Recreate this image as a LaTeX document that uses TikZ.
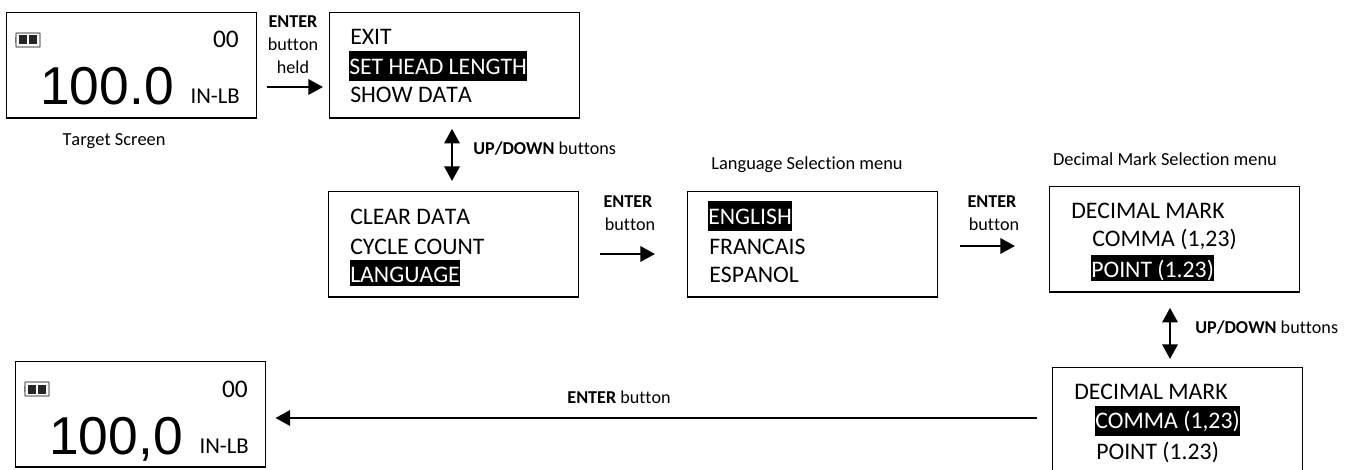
\documentclass[tikz,border=0pt]{standalone}
\usepackage{fontspec}
\setmainfont{Carlito}[Ligatures=NoCommon, Kerning=Off]
\newfontfamily\digitfont{Liberation Sans}
\usepackage{tikz}
\usetikzlibrary{positioning, calc, arrows.meta}
\tikzset{screen/.style={draw, line width=1.1pt, minimum width=187.5pt, minimum height=79pt, anchor=north west, inner sep=0pt}}
\tikzset{menuline/.style={anchor=base west, inner sep=0pt, font=\fontsize{17.8}{20}\selectfont}}
\tikzset{hilite/.style 2 args={menuline, fill=black, text=white, text height=#1, text depth=#2}}
\tikzset{caption/.style={inner sep=0pt, font=\fontsize{13.8}{17}\selectfont}}
\tikzset{btnlabel/.style={inner sep=0pt, align=center, font=\fontsize{13.6}{17.2}\selectfont}}
\tikzset{bigvalue/.style={anchor=base east, inner sep=0pt, font=\digitfont\fontsize{40}{44}\selectfont}}
\tikzset{unitlabel/.style={anchor=base east, inner sep=0pt, font=\fontsize{17}{20}\selectfont}}
\tikzset{countlabel/.style={anchor=base east, inner sep=0pt, font=\fontsize{19}{22}\selectfont}}
\tikzset{flow/.style={line width=1.8pt, -{Triangle[length=11pt, width=11.5pt]}}}
\tikzset{flowboth/.style={line width=1.8pt, {Triangle[length=11pt, width=11.5pt]}-{Triangle[length=11pt, width=11.5pt]}}}
\tikzset{battery/.pic={
    \draw[black!55, line width=1.1pt, rounded corners=0.5pt] (0,0) rectangle (24,14);
    \fill[black!55] (-1.5,4) rectangle (0,10);
    \fill[black!85] (3,2.5) rectangle (11,11.5);
    \fill[black!85] (13,2.5) rectangle (21,11.5);
}}

\begin{document}
\begin{tikzpicture}[x=0.75pt, y=-0.75pt]
      \useasboundingbox (0,0) rectangle (1352,470);

      % SCREENS

      \node[screen] (target) at (6,12) {};
      \node[screen] (menuHead) at (329,12) {};
      \node[screen] (menuLang) at (328,191) {};
      \node[screen] (langSel) at (687,191) {};
      \node[screen] (markPoint) at (1049,186) {};
      \node[screen] (markComma) at (1052,367) {};
      \node[screen] (result) at (15,361) {};

      % TARGET SCREENS

      \pic at ($(target.north west)+(10,21)$) {battery};
      \node[countlabel] (targetCount) at ($(target.north west)+(233,36)$) {00};
      \node[bigvalue] (targetValue) at ($(target.north west)+(168,93)$) {100.0};
      \node[unitlabel] (targetUnit) at ($(target.north west)+(234,92)$) {IN-LB};

      \pic at ($(result.north west)+(10,21)$) {battery};
      \node[countlabel] (resultCount) at ($(result.north west)+(233,36)$) {00};
      \node[bigvalue] (resultValue) at ($(result.north west)+(168,93)$) {100,0};
      \node[unitlabel] (resultUnit) at ($(result.north west)+(234,92)$) {IN-LB};

      % MENU LINES

      \node[menuline] (exit) at ($(menuHead.north west)+(21,33)$) {EXIT};
      \node[hilite={18pt}{4.5pt}] (setHead) at ($(menuHead.north west)+(20,63)$) {SET HEAD LENGTH};
      \node[menuline] (showData) at ($(menuHead.north west)+(21,91)$) {SHOW DATA};

      \node[menuline] (clearData) at ($(menuLang.north west)+(22,34)$) {CLEAR DATA};
      \node[menuline] (cycleCount) at ($(menuLang.north west)+(22,63)$) {CYCLE COUNT};
      \node[hilite={16.5pt}{3pt}] (language) at ($(menuLang.north west)+(22,91)$) {LANGUAGE};

      \node[hilite={18pt}{4.5pt}] (english) at ($(langSel.north west)+(21,34)$) {ENGLISH};
      \node[menuline] (francais) at ($(langSel.north west)+(22,63)$) {FRANCAIS};
      \node[menuline] (espanol) at ($(langSel.north west)+(22,91)$) {ESPANOL};

      \node[menuline] (markA) at ($(markPoint.north west)+(22,33)$) {DECIMAL MARK};
      \node[menuline] (commaA) at ($(markPoint.north west)+(43,61)$) {COMMA (1,23)};
      \node[hilite={16.5pt}{3pt}] (pointA) at ($(markPoint.north west)+(42,91)$) {POINT (1.23)};

      \node[menuline] (markB) at ($(markComma.north west)+(22,32)$) {DECIMAL MARK};
      \node[hilite={16.5pt}{6pt}] (commaB) at ($(markComma.north west)+(43,61)$) {COMMA (1,23)};
      \node[menuline] (pointB) at ($(markComma.north west)+(44,92)$) {POINT (1.23)};

      % LABELS

      \node[caption] (targetCaption) at (114,141) {Target Screen};
      \node[caption] (langCaption) at (807,165) {Language Selection menu};
      \node[caption] (markCaption) at (1165,159) {Decimal Mark Selection menu};

      \node[btnlabel] (enterHeld) at (293,45) {\textbf{ENTER}\\button\\held};
      \node[btnlabel] (enterLang) at (628,213) {\textbf{ENTER}\\\ button};
      \node[btnlabel] (enterMark) at (992,213) {\textbf{ENTER}\\\ button};
      \node[btnlabel, anchor=west] (upDownHead) at (473,149) {\textbf{UP/DOWN} buttons};
      \node[btnlabel, anchor=west] (upDownMark) at (1195,328) {\textbf{UP/DOWN} buttons};
      \node[btnlabel] (enterBack) at (619,397) {\textbf{ENTER} button};

      % ARROWS

      \coordinate (heldStart) at ($(target.north east)+(10,75)$);
      \coordinate (heldEnd) at ($(menuHead.north west)+(-6,75)$);
      \coordinate (langStart) at ($(menuLang.north east)+(21,63)$);
      \coordinate (langEnd) at ($(langSel.north west)+(-32,63)$);
      \coordinate (markStart) at ($(langSel.north east)+(22,55)$);
      \coordinate (markEnd) at ($(markPoint.north west)+(-34,60)$);
      \coordinate (upHead) at ($(menuHead.south west)+(123,10)$);
      \coordinate (downHead) at ($(menuLang.north west)+(124,-10)$);
      \coordinate (upMark) at ($(markPoint.south west)+(121,15)$);
      \coordinate (downMark) at ($(markComma.north west)+(118,-8)$);
      \coordinate (backStart) at ($(markComma.north west)+(-15,51)$);
      \coordinate (backEnd) at ($(result.north east)+(9,57)$);

      \draw[flow] (heldStart) -- (heldEnd);
      \draw[flow] (langStart) -- (langEnd);
      \draw[flow] (markStart) -- (markEnd);
      \draw[flowboth] (upHead) -- (downHead);
      \draw[flowboth] (upMark) -- (downMark);
      \draw[flow] (backStart) -- (backEnd);
    \end{tikzpicture}
\end{document}
